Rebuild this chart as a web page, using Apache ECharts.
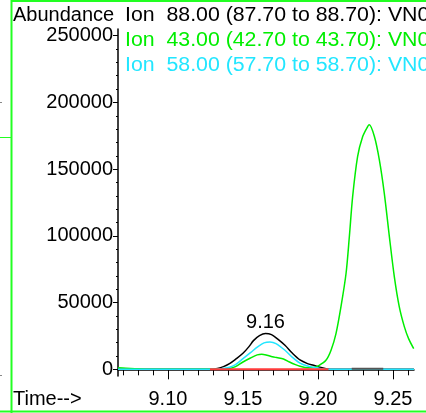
<!DOCTYPE html>
<html><head><meta charset="utf-8">
<script src="https://cdn.jsdelivr.net/npm/echarts@6/dist/echarts.min.js"></script>
<style>html,body{margin:0;padding:0;background:#fff}#c{width:426px;height:413px}</style>
</head><body><div id="c"></div>
<script>
// ---- data ----
const tBlack = [9.0667, 9.128, 9.133, 9.137, 9.1413, 9.145, 9.150, 9.154, 9.157, 9.161, 9.165, 9.169, 9.173, 9.178, 9.183, 9.188, 9.193, 9.197, 9.201, 9.206, 9.211, 9.264];
const vBlack = [0, 0, 700, 2000, 4500, 7500, 12000, 17000, 21500, 25200, 26800, 26000, 22800, 18000, 12000, 7000, 4300, 3000, 1600, 300, 0, 0];

const tCyan = [9.0667, 9.130, 9.135, 9.141, 9.145, 9.150, 9.155, 9.160, 9.164, 9.168, 9.172, 9.178, 9.183, 9.188, 9.193, 9.197, 9.202, 9.207, 9.264];
const vCyan = [0, 0, 400, 1500, 3500, 8000, 12500, 17000, 19800, 20500, 19300, 14300, 9000, 4700, 2500, 1500, 500, 0, 0];

const tGreen = [9.0667, 9.072, 9.080, 9.090, 9.132, 9.137, 9.141, 9.145, 9.150, 9.155, 9.1595, 9.1625, 9.166, 9.1695, 9.1725, 9.177, 9.181, 9.185, 9.188, 9.193, 9.197, 9.2005, 9.2053, 9.2087, 9.212, 9.2153, 9.2187, 9.2209, 9.2231, 9.2264, 9.2298, 9.2331, 9.2342, 9.2376, 9.2409, 9.2442, 9.2476, 9.2509, 9.2542, 9.2576, 9.2604, 9.2638];
const vGreen = [1200, 900, 400, 0, 0, 300, 700, 2000, 5500, 8500, 10800, 11300, 10600, 9500, 8800, 7800, 5500, 3500, 2300, 1200, 1300, 2800, 6750, 14300, 26800, 46800, 71800, 99300, 129400, 159400, 174400, 181900, 183200, 174400, 156900, 131900, 99300, 69300, 46800, 31800, 23000, 15500];

const tRed = [9.128, 9.207];
const vRed = [0, 0];
const tGray = [9.2225, 9.2435];
const vGray = [400, 400];

const yTicks = [0, 50000, 100000, 150000, 200000, 250000];
const yMinor = [10000,20000,30000,40000,60000,70000,80000,90000,110000,120000,130000,140000,160000,170000,180000,190000,210000,220000,230000,240000];
const xTicks = [9.10, 9.15, 9.20, 9.25];
const xMinor = [9.07,9.08,9.09,9.10,9.11,9.12,9.13,9.14,9.15,9.16,9.17,9.18,9.19,9.20,9.21,9.22,9.23,9.24,9.25,9.26];

const legendLines = [
  ['Ion  88.00 (87.70 to 88.70): VN0', '#000000'],
  ['Ion  43.00 (42.70 to 43.70): VN0', '#00ee00'],
  ['Ion  58.00 (57.70 to 58.70): VN0', '#22e6ff']
];
const peakLabel = '9.16';

// ---- chart ----
const FONT = 'Liberation Sans, Arial, sans-serif';
const zip = (t, v) => t.map((x, i) => [x, v[i]]);
const chart = echarts.init(document.getElementById('c'), null, {renderer: 'canvas'});

const mkLine = (name, t, v, color, width, z) => ({
  name, type: 'line', data: zip(t, v), showSymbol: false, symbol: 'none',
  smooth: 0.3, lineStyle: {color, width}, itemStyle: {color}, z, animation: false
});

const blackSeries = mkLine('Ion 88', tBlack, vBlack, '#000000', 1.5, 3);
blackSeries.markPoint = {
  symbol: 'circle', symbolSize: 1, itemStyle: {color: 'rgba(0,0,0,0)'},
  label: {show: true, position: 'top', distance: 1, formatter: peakLabel, fontSize: 20, fontFamily: FONT, color: '#000'},
  data: [{coord: [9.165, 26800]}], animation: false
};

const txt = (text, x, y, color, sx) => ({
  type: 'text', x, y, scaleX: sx || 1, silent: true,
  style: {text, x: 0, y: 0, fill: color, font: '20px ' + FONT, textAlign: 'left', textVerticalAlign: 'middle'}
});

const frame = '#22ff22';
chart.setOption({
  animation: false,
  backgroundColor: '#ffffff',
  grid: {left: 118, right: 12, top: 29, bottom: 37, containLabel: false},
  xAxis: [{
    type: 'value', min: 9.0667, max: 9.264, position: 'bottom',
    axisLine: {show: true, lineStyle: {color: '#000', width: 1.5}},
    axisTick: {show: true, inside: false, length: 10, customValues: xTicks, lineStyle: {color: '#000', width: 1}},
    axisLabel: {show: true, customValues: xTicks, margin: 13, fontSize: 20, fontFamily: FONT, color: '#000', formatter: v => v.toFixed(2)},
    splitLine: {show: false}
  }, {
    type: 'value', min: 9.0667, max: 9.264, position: 'bottom',
    axisLine: {show: false},
    axisTick: {show: true, length: 6, customValues: xMinor, lineStyle: {color: '#000', width: 1}},
    axisLabel: {show: false},
    splitLine: {show: false}
  }],
  yAxis: [{
    type: 'value', min: -5000, max: 255000, position: 'left',
    axisLine: {show: true, lineStyle: {color: '#000', width: 1.5}},
    axisTick: {show: true, length: 5, customValues: yTicks, lineStyle: {color: '#000', width: 1}},
    axisLabel: {show: true, customValues: yTicks, margin: 5, fontSize: 20, fontFamily: FONT, color: '#000', formatter: v => String(Math.round(v))},
    splitLine: {show: false}
  }, {
    type: 'value', min: -5000, max: 255000, position: 'left',
    axisLine: {show: false},
    axisTick: {show: true, length: 2, customValues: yMinor, lineStyle: {color: '#000', width: 1}},
    axisLabel: {show: false},
    splitLine: {show: false}
  }],
  series: [
    blackSeries,
    mkLine('Ion 43', tGreen, vGreen, '#00ee00', 1.5, 4),
    mkLine('Ion 58', tCyan, vCyan, '#22e6ff', 1.5, 5),
    mkLine('gray', tGray, vGray, '#555555', 2, 6),
    mkLine('baseline', tRed, vRed, '#ff3b3b', 2, 7)
  ],
  graphic: [
    {type: 'line', silent: true, shape: {x1: 11.5, y1: 0, x2: 11.5, y2: 413}, style: {stroke: frame, lineWidth: 2}},
    {type: 'line', silent: true, shape: {x1: 11, y1: 1, x2: 426, y2: 1}, style: {stroke: frame, lineWidth: 2}},
    {type: 'line', silent: true, shape: {x1: 0, y1: 411.5, x2: 426, y2: 411.5}, style: {stroke: frame, lineWidth: 2}},
    {type: 'line', silent: true, shape: {x1: 0, y1: 137.5, x2: 11, y2: 137.5}, style: {stroke: frame, lineWidth: 1}},
    {type: 'line', silent: true, shape: {x1: 0, y1: 102.5, x2: 2, y2: 102.5}, style: {stroke: '#888', lineWidth: 1}},
    {type: 'line', silent: true, shape: {x1: 0, y1: 375.5, x2: 2, y2: 375.5}, style: {stroke: '#888', lineWidth: 1}},
    txt('Abundance', 13, 15.5, '#000'),
    txt(legendLines[0][0], 125, 15.5, legendLines[0][1], 1.065),
    txt(legendLines[1][0], 125, 40.5, legendLines[1][1], 1.065),
    txt(legendLines[2][0], 125, 65.5, legendLines[2][1], 1.065),
    txt('Time-->', 13, 399.5, '#000')
  ]
});
</script>
</body></html>
